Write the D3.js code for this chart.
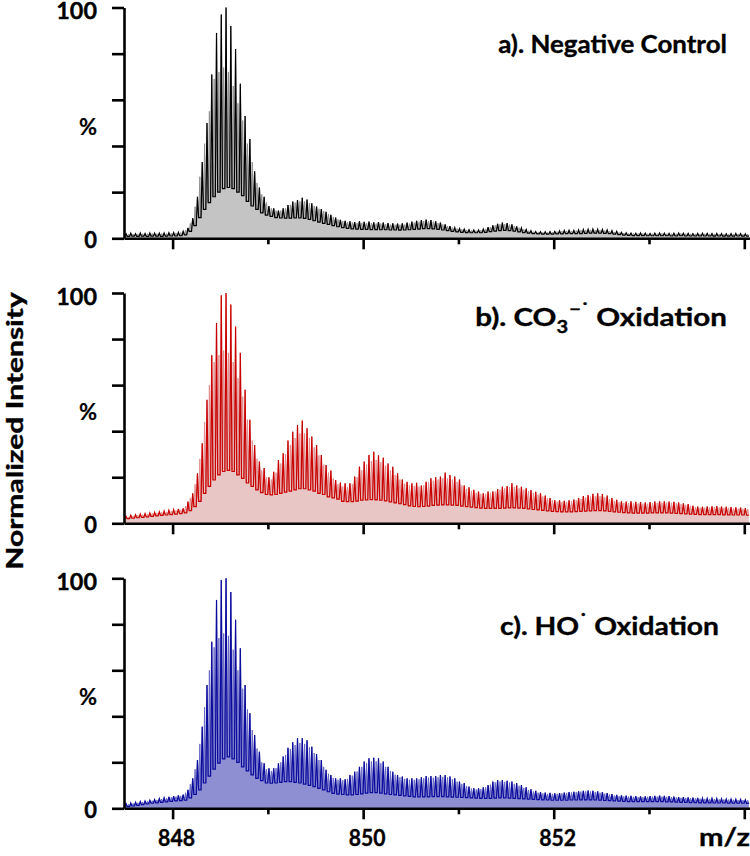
<!DOCTYPE html>
<html><head><meta charset="utf-8">
<script src="https://cdn.jsdelivr.net/npm/d3@7"></script>
<style>body{margin:0;background:#fff}svg{display:block}</style>
</head><body>
<svg id="chart" width="750" height="856"></svg>
<script>
// ---------- data ----------
const peakStart = 847.511;   // m/z of first main isotope peak
const peakSpacing = 0.05;    // isotope spacing (1/z, z = 20)
const xMajorTicks = [848, 850, 852, 854];
const xMinorTicks = [849, 851, 853];
const xTickLabels = ["848", "850", "852"];
const yTicks = [0, 20, 40, 60, 80, 100];
const yTickLabels = ["0", "100"];

// intensity (%): main peak apex k, interleaved minor peak after it, and trough level
const peaksA = [2.0,2.2,2.0,2.3,2.1,2.3,2.2,2.2,2.3,2.4, 2.5,2.6,3.0,
 4.5,8.7,18,33,50,71,89,97,
 100,92,82,67,53,43,29,22,18,14,
 13,12,13,14.4,15.9,16.6,17.6,16.8,15.2,13.8,
 12.7,11.5,10.2,9,8,7.6,7.3,7.0,7.4,7.1,
 7.2,6.9,7.0,6.8,6.6,6.5,6.4,6.5,6.8,7.2,
 7.6,7.9,8.1,7.9,7.4,6.8,6.0,5.3,4.6,4.2,
 3.9,3.7,3.6,3.6,4.0,4.8,5.6,6.3,6.8,6.6,
 6.0,5.2,4.5,3.8,3.3,2.9,2.8,2.8,2.9,3.0,
 3.2,3.4,3.5,3.4,3.6,3.8,3.9,4.0,3.9,3.8,
 3.6,3.3,3.0,2.6,2.4,2.3,2.2,2.3,2.2,2.1,
 2.2,2.3,2.2,2.1,2.2,2.3,2.2,2.1,2.0,2.1,
 2.2,2.1,2.0,2.1,2.0,1.9,2.0,2.1,2.0,1.9];
const midsA = [1.8,1.9,1.9,2.0,2.0,2.1,2.0,2.1,2.1,2.2, 2.3,2.5,3.5,
 6.5,13.7,26.7,41,55,69,72,74,
 72,66,58.5,51,41,33,24,19,15.5,13,
 12,12,13,14.5,15.5,16,16,15.2,14,12.8,
 11.8,10.5,9.3,8.2,7.5,7.1,6.8,6.6,6.7,6.6,
 6.6,6.4,6.4,6.2,6.0,5.9,5.9,6.0,6.4,6.8,
 7.2,7.5,7.5,7.2,6.6,6.0,5.3,4.7,4.2,3.9,
 3.6,3.4,3.3,3.5,4.1,4.9,5.6,6.1,6.2,5.9,
 5.3,4.6,3.9,3.3,2.9,2.6,2.6,2.6,2.7,2.9,
 3.1,3.2,3.2,3.3,3.5,3.6,3.7,3.6,3.5,3.4,
 3.1,2.8,2.5,2.3,2.2,2.1,2.1,2.1,2.0,2.0,
 2.0,2.1,2.0,2.0,2.0,2.1,2.0,1.9,1.9,1.9,
 2.0,1.9,1.9,1.9,1.8,1.8,1.9,1.9,1.8,1.8];
const valleysA = [0.8,0.9,0.8,0.9,0.8,0.9,0.9,0.8,0.9,1.0, 1.0,1.1,1.5,
 3,5.5,9,12.5,15.5,18,20,21.5,
 22,21.5,20,18.5,16,14,12.5,11,10,9.5,
 9,8.8,8.7,8.7,8.8,8.8,8.6,8.2,7.6,7.0,
 6.5,6.0,5.5,5.0,4.6,4.3,4.1,4.0,3.9,3.9,
 3.8,3.8,3.7,3.7,3.6,3.6,3.5,3.6,3.7,3.9,
 4.0,4.2,4.2,4.1,3.9,3.6,3.3,3.0,2.8,2.6,
 2.5,2.4,2.4,2.4,2.6,2.9,3.1,3.3,3.4,3.3,
 3.1,2.8,2.5,2.2,2.0,1.9,1.8,1.8,1.8,1.9,
 1.9,2.0,2.0,2.0,2.0,2.1,2.2,2.2,2.2,2.1,
 2.0,1.8,1.6,1.4,1.3,1.2,1.2,1.2,1.1,1.1,
 1.1,1.1,1.1,1.0,1.0,1.1,1.0,1.0,1.0,1.0,
 1.0,1.0,0.9,1.0,0.9,0.9,0.9,1.0,0.9,0.9];

const peaksB = [3.0,3.5,3.7,4.0,4.2,4.5,4.8,5.0,5.3,5.6, 5.9,6.2,6.5,
 9.4,13,21.7,34.8,53.6,73,87,99,
 100,95,85.5,74,58,45,34,26.8,24,20,
 22.4,27.5,30.4,36,39.8,42.7,44.6,41.3,37.7,34,
 29.7,25.3,22.9,18.8,17.7,17.4,17.4,20.3,24.6,26.8,
 29.7,31.1,29.5,28.5,26,24.6,21.7,19,18,17.4,
 17.6,16.4,18,19.6,20,20.3,22,21,20.3,19,
 16.4,15.6,14.5,13.8,13,13.8,13.8,14.9,15.9,16.2,
 17.4,16.4,15.9,15.2,14.4,13.7,13,12,11,10,
 10,9.8,10,10.3,11,11.8,12.3,12.8,13,12.7,
 12,11,10.2,9.6,9.4,9.5,9.3,9.2,9.0,9.2,
 9.4,9.6,9.5,9.4,9.3,9.0,8.7,8.3,7.6,7.3,
 7.2,7.3,7.4,7.5,7.3,7.2,7.0,6.9,6.8,6.6];
const midsB = [2.8,3.2,3.5,3.7,4.0,4.3,4.5,4.8,5.0,5.3, 5.6,5.9,7.5,
 11,17,28,44,60,70,73,75,
 74,70,63,55,45,36,28,23,20,19,
 22,26,30,34,37,39,39,37,33,29.5,
 25.5,22,19.5,17,16,15.8,17,20,23,25.5,
 27,27.5,26.5,25,23,21,19,17.2,16.5,16.2,
 16,16.5,17.8,18.5,19,19.6,19.5,19,18,16.5,
 15,14,13.2,12.8,12.8,13.2,13.8,14.6,15.2,15.6,
 15.8,15.2,14.6,13.9,13.2,12.5,11.7,10.8,10,9.4,
 9.3,9.3,9.5,10,10.6,11.2,11.6,11.8,11.8,11.3,
 10.5,9.8,9.2,8.9,8.8,8.7,8.6,8.5,8.5,8.7,
 8.9,9.0,9.0,8.9,8.7,8.4,8.0,7.6,7.0,6.8,
 6.8,6.9,7.0,6.9,6.8,6.7,6.5,6.4,6.3,6.2];
const valleysB = [2.0,2.2,2.4,2.6,2.8,3.0,3.2,3.4,3.6,3.8, 4.0,4.2,4.5,
 5.5,7.2,9.5,13,16,18.8,21,22.5,
 23,22.5,21,19.5,17.5,16,14.5,13.3,12.5,12.3,
 12.5,13,13.5,14,14.5,15,15,14.5,14,13,
 12.5,11.5,11,10.5,9.5,9.4,9.4,9.6,10,10.2,
 10.3,10.2,10,9.7,9.3,8.9,8.5,8.1,7.6,7.3,
 7.2,7.3,7.5,7.8,7.9,8.0,8.0,7.9,7.8,7.5,
 7.2,7.0,6.8,6.6,6.5,6.5,6.5,6.5,6.6,6.7,
 6.7,6.6,6.5,6.3,6.0,5.8,5.6,5.4,5.2,5.1,
 5.0,5.0,5.0,5.1,5.2,5.3,5.4,5.5,5.5,5.4,
 5.2,5.0,4.8,4.6,4.5,4.4,4.4,4.4,4.4,4.5,
 4.5,4.5,4.5,4.4,4.3,4.2,4.1,4.0,3.9,3.8,
 3.8,3.8,3.8,3.8,3.7,3.7,3.6,3.6,3.6,3.5];

const peaksC = [2.0,2.3,2.6,2.9,3.2,3.5,3.8,4.2,4.6,5.0, 5.3,5.6,5.9,
 8,13,21,35.5,53.6,72.4,90.6,99.3,
 100,94,82,69.6,53.6,41.3,31.9,24.6,19.6,17.4,
 17.4,19.6,22.5,26.3,28.7,30.5,30.5,29.6,26.8,23.6,
 21,16.7,14.5,13,13,12.6,14.5,15.9,18,20.3,
 21.7,22,21.7,20.3,18,15.9,14.5,13.8,13,13,
 13,13.5,14,14,14,14.5,14.5,13.8,13,11.6,
 11,9.4,8.7,8.7,9.1,10.1,11.6,12.3,12.3,12,
 11.6,11,10.1,9.1,8.3,7.6,7.0,6.8,6.7,6.5,
 6.6,6.8,7.0,7.2,7.4,7.6,7.7,7.6,7.4,7.0,
 6.6,6.2,5.8,5.6,5.5,5.4,5.3,5.2,5.2,5.3,
 5.4,5.5,5.4,5.3,5.1,4.9,4.8,4.7,4.6,4.5,
 4.4,4.3,4.3,4.2,4.1,4.0,4.0,3.9,3.8,3.7];
const midsC = [1.8,2.1,2.4,2.7,3.0,3.3,3.6,4.0,4.4,4.8, 5.1,5.4,6.8,
 10.5,17,28,44,60,70,74,76,
 75,69,60,52,43,34,26,20,17,16.2,
 17.5,20,23.2,25.8,27.5,28.4,28,26.5,24,21,
 18,15,13.2,12.4,12.2,12.8,14.2,16,18,19.6,
 20.4,20.4,19.6,18,16.2,14.6,13.5,12.8,12.4,12.4,
 12.6,13,13.3,13.3,13.5,13.7,13.4,12.6,11.6,10.6,
 9.6,8.6,8.2,8.4,9.1,10.3,11.3,11.7,11.5,11.2,
 10.6,9.8,8.9,8,7.3,6.8,6.5,6.3,6.3,6.3,
 6.5,6.7,6.9,7.1,7.3,7.4,7.3,7.1,6.8,6.4,
 6.0,5.6,5.3,5.2,5.1,5.0,4.9,4.9,5.0,5.1,
 5.1,5.1,5.0,4.9,4.7,4.6,4.5,4.4,4.3,4.2,
 4.1,4.1,4.0,3.9,3.8,3.8,3.7,3.6,3.6,3.5];
const valleysC = [0.7,1.0,1.3,1.6,1.9,2.2,2.4,2.6,2.8,3.0, 3.2,3.3,3.5,
 4.5,6,8,11,14,17,19.6,21.5,
 22.4,21.5,20,18,16.3,14.5,13,12,11,10.9,
 11,11.3,11.6,11.6,11.3,11,10.5,10,9.4,8.7,
 8,7.2,6.5,6.2,6.0,5.8,5.8,6.0,6.3,6.6,
 6.8,6.8,6.6,6.3,6.0,5.8,5.6,5.4,5.2,5.0,
 5.0,5.0,5.0,5.1,5.1,5.1,5.0,4.9,4.8,4.7,
 4.6,4.5,4.4,4.3,4.3,4.3,4.4,4.5,4.5,4.4,
 4.3,4.2,4.1,4.0,3.9,3.8,3.7,3.6,3.5,3.5,
 3.5,3.5,3.6,3.6,3.7,3.7,3.7,3.6,3.5,3.4,
 3.3,3.2,3.1,3.0,2.9,2.9,2.9,2.9,2.9,2.9,
 2.9,2.9,2.8,2.8,2.7,2.6,2.6,2.5,2.5,2.4,
 2.4,2.4,2.3,2.3,2.3,2.2,2.2,2.2,2.2,2.1];

// ---------- layout ----------
const FONT = "Lato,'Open Sans','DejaVu Sans',sans-serif";
const svg = d3.select('#chart');
const x = d3.scaleLinear().domain([847.49, 854.06]).range([124, 750]);

const panels = [
  {peaks: peaksA, mids: midsA, valleys: valleysA, top: 7.5, bottom: 238.3,
   stroke: '#000000', mid: '#8a8a8a', fill: '#c4c4c4'},
  {peaks: peaksB, mids: midsB, valleys: valleysB, top: 293, bottom: 523.3,
   stroke: '#c80000', mid: '#e08a8a', fill: '#e8c6c6'},
  {peaks: peaksC, mids: midsC, valleys: valleysC, top: 578.3, bottom: 808.3,
   stroke: '#0c0c9c', mid: '#6464c4', fill: '#8e8ed3'}
];

function fitWidth(sel, target) {
  const bb = sel.node().getBBox();
  const anchor = sel.attr('text-anchor');
  const ax = anchor === 'end' ? bb.x + bb.width : (anchor === 'middle' ? bb.x + bb.width / 2 : bb.x);
  const s = target / bb.width;
  sel.attr('transform', `translate(${ax},0) scale(${s},1) translate(${-ax},0)`);
}
function boldText(sel) {
  return sel.attr('font-family', FONT).attr('font-weight', 700)
    .attr('fill', '#000').attr('stroke', '#000').attr('stroke-width', 0.35);
}

const defs = svg.append('defs');
const q = peakSpacing / 4;

panels.forEach((p, i) => {
  const y = d3.scaleLinear().domain([0, 100]).range([p.bottom, p.top]);
  const all = [[peakStart - q, p.valleys[0]]];
  const main = [[peakStart - q, p.valleys[0]]];
  p.peaks.forEach((v, k) => {
    const m = peakStart + k * peakSpacing;
    all.push([m, v], [m + q, p.valleys[k]], [m + 2 * q, p.mids[k]], [m + 3 * q, p.valleys[k]]);
    main.push([m, v], [m + q, p.valleys[k]], [m + 3 * q, p.valleys[k]]);
  });

  defs.append('clipPath').attr('id', 'clip' + i)
    .append('rect').attr('x', x.range()[0]).attr('y', 0)
    .attr('width', x.range()[1] - x.range()[0]).attr('height', p.bottom);

  const g = svg.append('g').attr('clip-path', `url(#clip${i})`);
  const area = d3.area().x(d => x(d[0])).y0(y(0)).y1(d => y(d[1]));
  const line = d3.line().x(d => x(d[0])).y(d => y(d[1]));
  g.append('path').datum(all).attr('d', area).attr('fill', p.fill);
  g.append('path').datum(all).attr('d', line)
    .attr('fill', 'none').attr('stroke', p.mid).attr('stroke-width', 0.9);
  g.append('path').datum(main).attr('d', line)
    .attr('fill', 'none').attr('stroke', p.stroke).attr('stroke-width', 1.2);

  // y axis
  const ya = svg.append('g').attr('transform', `translate(${x.range()[0]},0)`)
    .call(d3.axisLeft(y).tickValues(yTicks).tickSize(12).tickSizeOuter(0).tickFormat(''));
  ya.selectAll('path,line').attr('stroke', '#000').attr('stroke-width', 2.6);

  // x axis (major + minor)
  const xa = svg.append('g').attr('transform', `translate(0,${p.bottom})`)
    .call(d3.axisBottom(x).tickValues(xMajorTicks).tickSize(11).tickSizeOuter(0).tickFormat(''));
  xa.selectAll('path,line').attr('stroke', '#000').attr('stroke-width', 2.6);
  const xm = svg.append('g').attr('transform', `translate(0,${p.bottom})`)
    .call(d3.axisBottom(x).tickValues(xMinorTicks).tickSize(6).tickSizeOuter(0).tickFormat(''));
  xm.select('path').remove();
  xm.selectAll('line').attr('stroke', '#000').attr('stroke-width', 2.6);

  // y tick labels
  yTickLabels.forEach(t => {
    const tt = boldText(svg.append('text')).attr('x', 97).attr('y', y(+t) + (t === '100' ? 3.5 : 1))
      .attr('text-anchor', 'end').attr('dominant-baseline', 'central')
      .attr('font-size', 22).text(t);
    fitWidth(tt, t === '100' ? 41 : 13);
  });
  boldText(svg.append('text')).attr('x', 97).attr('y', y(48.5))
    .attr('text-anchor', 'end').attr('dominant-baseline', 'central')
    .attr('font-size', 22).attr('stroke-width', 0.2).text('%');
});

// panel titles
const tA = boldText(svg.append('text')).attr('x', 727).attr('y', 53).attr('text-anchor', 'end')
  .attr('font-size', 25).text('a). Negative Control');
fitWidth(tA, 229);

const tB = boldText(svg.append('text')).attr('x', 727).attr('y', 326).attr('text-anchor', 'end')
  .attr('font-size', 25);
tB.append('tspan').text('b). CO');
tB.append('tspan').attr('font-size', 17).attr('dy', 7).text('3');
tB.append('tspan').attr('font-size', 17).attr('dy', -18).attr('dx', 1).text('−˙');
tB.append('tspan').attr('dy', 11).text(' Oxidation');
fitWidth(tB, 252);

const tC = boldText(svg.append('text')).attr('x', 719).attr('y', 635).attr('text-anchor', 'end')
  .attr('font-size', 25);
tC.append('tspan').text('c). HO');
tC.append('tspan').attr('font-size', 18).attr('dy', -8).text('˙');
tC.append('tspan').attr('dy', 8).text(' Oxidation');
fitWidth(tC, 219);

// y axis title
const yt = boldText(svg.append('text')).attr('transform', 'translate(23,431) rotate(-90)')
  .attr('text-anchor', 'middle').attr('font-size', 22).text('Normalized Intensity');
{
  const bb = yt.node().getBBox();
  const s = 278 / bb.width;
  yt.attr('transform', `translate(23,431) rotate(-90) scale(${s},1)`);
}

// x tick labels (bottom panel only)
xTickLabels.forEach(t => {
  const tt = boldText(svg.append('text')).attr('x', x(+t) + 4).attr('y', 846).attr('text-anchor', 'middle')
    .attr('font-size', 22).text(t);
  fitWidth(tt, 37);
});
const mz = boldText(svg.append('text')).attr('x', 750).attr('y', 846).attr('text-anchor', 'end')
  .attr('font-size', 25).text('m/z');
fitWidth(mz, 51);
</script>
</body></html>
